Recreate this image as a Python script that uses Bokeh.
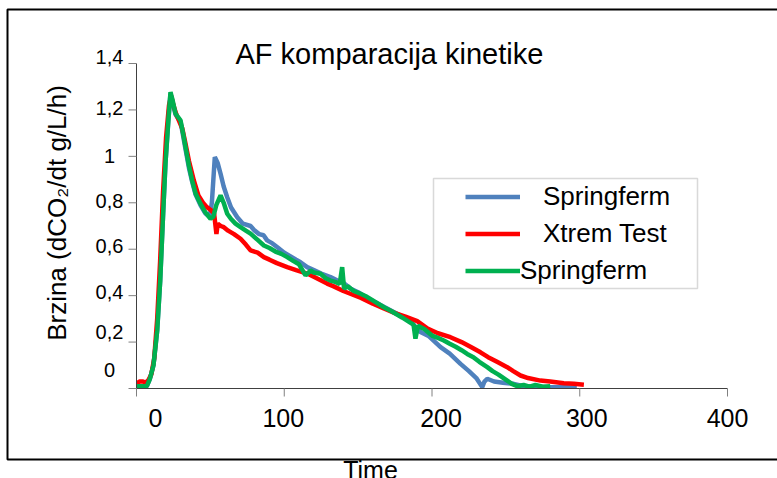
import math
from bokeh.plotting import figure
from bokeh.models import Range1d, Legend, LegendItem, BoxAnnotation
from bokeh.embed import file_html
from bokeh.resources import INLINE

# ---------------- data ----------------
title_text = "AF komparacija kinetike"
x_axis_label = "Time"
y_axis_label = "Brzina (dCO\u2082/dt g/L/h)"
series_names = ["Springferm", "Xtrem Test", "Springferm"]

x_ticks = [0, 100, 200, 300, 400]
x_tick_labels = ["0", "100", "200", "300", "400"]
y_ticks = [0, 0.2, 0.4, 0.6, 0.8, 1.0, 1.2, 1.4]
y_tick_labels = ["0", "0,2", "0,4", "0,6", "0,8", "1", "1,2", "1,4"]

blue_x = [0, 3, 7, 9, 11.5, 14, 16, 18, 19.6, 21.5, 23, 24.5, 26.4, 28, 29.8, 31.5, 33.2, 35.5,
          37.7, 40, 43.3, 46.5, 49.5, 51, 53, 55, 56.9, 59, 61.4, 64, 68.2, 72, 77.2, 80, 83, 86,
          88.4, 92, 96, 100, 104, 108, 111, 115.5, 120, 125, 131.3, 136, 140, 145, 150, 156, 162,
          168, 174, 180, 186, 192.2, 198, 205.8, 212, 219.3, 225, 230, 234, 235.5, 237.4, 242,
          248, 255.3, 262, 270, 280, 290, 298]
blue_y = [0.005, 0.005, 0.01, 0.04, 0.10, 0.25, 0.46, 0.75, 0.97, 1.15, 1.27, 1.23, 1.18, 1.165,
          1.15, 1.09, 1.03, 0.95, 0.89, 0.835, 0.79, 0.755, 0.74, 0.80, 0.997, 0.97, 0.925, 0.87,
          0.824, 0.78, 0.738, 0.71, 0.70, 0.68, 0.665, 0.66, 0.638, 0.625, 0.605, 0.585, 0.57,
          0.555, 0.544, 0.523, 0.51, 0.495, 0.48, 0.465, 0.455, 0.43, 0.415, 0.39, 0.37, 0.35,
          0.33, 0.31, 0.285, 0.243, 0.225, 0.178, 0.15, 0.106, 0.075, 0.045, 0.006, 0.03, 0.042,
          0.03, 0.025, 0.02, 0.01, 0.008, 0.005, 0.005, 0.004]

red_x = [0, 2, 4.4, 6, 8, 10, 12, 14, 16, 18, 20, 22, 23.5, 25, 27, 29, 31, 33, 35.5, 38.8, 42,
         45, 47.6, 50, 52.5, 54.1, 55, 57, 59.1, 62, 66, 70.4, 74, 77.2, 82, 86.2, 90, 95, 102,
         108, 115.5, 122, 129, 133.5, 140, 146, 152, 160, 167.4, 175, 182, 190, 197, 204, 212.5,
         220, 226, 232.8, 238, 244, 250.9, 255, 259.9, 265, 273.4, 280, 289.2, 296, 302.8]
red_y = [0.02, 0.03, 0.03, 0.025, 0.035, 0.06, 0.13, 0.30, 0.55, 0.85, 1.08, 1.22, 1.26, 1.22,
         1.18, 1.15, 1.12, 1.06, 0.98, 0.896, 0.83, 0.80, 0.781, 0.77, 0.755, 0.666, 0.71, 0.70,
         0.695, 0.68, 0.665, 0.645, 0.62, 0.595, 0.585, 0.566, 0.555, 0.54, 0.523, 0.51, 0.495,
         0.475, 0.452, 0.44, 0.42, 0.405, 0.39, 0.365, 0.345, 0.325, 0.31, 0.29, 0.258, 0.238,
         0.221, 0.2, 0.18, 0.156, 0.135, 0.115, 0.092, 0.075, 0.056, 0.045, 0.034, 0.03, 0.023,
         0.02, 0.016]

green_x = [0, 3, 7, 9, 11.5, 14, 16, 18, 19.6, 21.5, 23, 24.5, 26.4, 28, 29.8, 31.5, 33.2, 35.5,
           37.7, 40, 43.3, 46.5, 50.1, 52, 54, 56.9, 59, 61.4, 64, 67, 70.4, 74, 77.2, 82, 86.2,
           90, 94, 98, 102, 106, 110, 114.4, 117.8, 120, 124.5, 128, 131.3, 135, 137.5, 139.2,
           140.5, 143, 147, 151.6, 156, 161, 167.4, 172, 176, 180, 185, 187.5, 188.8, 190.5, 195,
           200, 204, 208, 212, 216, 220, 223.8, 228, 232, 237.4, 241, 245, 250.9, 254, 257.7, 262,
           266, 270, 275, 280]
green_y = [0.01, 0.01, 0.01, 0.04, 0.10, 0.25, 0.46, 0.75, 0.97, 1.15, 1.277, 1.24, 1.185, 1.17,
           1.155, 1.10, 1.04, 0.96, 0.896, 0.84, 0.796, 0.76, 0.731, 0.74, 0.79, 0.832, 0.80,
           0.753, 0.73, 0.71, 0.695, 0.68, 0.667, 0.64, 0.616, 0.605, 0.59, 0.58, 0.566, 0.55,
           0.535, 0.487, 0.508, 0.50, 0.494, 0.475, 0.465, 0.458, 0.45, 0.523, 0.43, 0.44, 0.42,
           0.408, 0.395, 0.375, 0.35, 0.335, 0.32, 0.305, 0.285, 0.275, 0.215, 0.27, 0.255, 0.228,
           0.218, 0.207, 0.193, 0.18, 0.165, 0.149, 0.135, 0.115, 0.092, 0.075, 0.06, 0.034,
           0.02, 0.01, 0.015, 0.008, 0.015, 0.008, 0.01]

# ---------------- layout / style ----------------
W, H = 777, 478
FONT = "Liberation Sans"
BLUE, RED, GREEN = "#4F81BD", "#FF0000", "#00B050"
AXIS_LEFT, AXIS_RIGHT, AXIS_TOP, AXIS_BOTTOM = 136, 727, 63, 388   # pixel box of the plot area
x_label_nudge = [19, -1, 9, 7, 0]            # px right (Excel-like label placement)
y_label_nudge = [19, 10, 4, 3, 2, 0, 2, 7]   # px upward

kx = (AXIS_RIGHT - AXIS_LEFT) / (x_ticks[-1] - x_ticks[0])   # px per x unit
ky = (AXIS_BOTTOM - AXIS_TOP) / (y_ticks[-1] - y_ticks[0])   # px per y unit
X0 = x_ticks[0] - AXIS_LEFT / kx
Y1 = y_ticks[-1] + AXIS_TOP / ky

def sx(px):
    return X0 + px / kx

def sy(py):
    return Y1 - py / ky

p = figure(width=W, height=H, output_backend="svg", toolbar_location=None,
           x_range=Range1d(sx(0), sx(W)), y_range=Range1d(sy(H), sy(0)),
           x_axis_type=None, y_axis_type=None, min_border=0,
           background_fill_color="white", border_fill_color="white")
p.outline_line_color = None
p.grid.visible = False

# outer frame of the picture
p.line([sx(W + 20), sx(7), sx(7), sx(W + 20)], [sy(9), sy(9), sy(459), sy(459)],
       line_color="black", line_width=2)

# data
r_blue = p.line(blue_x, blue_y, line_color=BLUE, line_width=4.5)
r_red = p.line(red_x, red_y, line_color=RED, line_width=4.5)
r_green = p.line(green_x, green_y, line_color=GREEN, line_width=4.5)

# clip marks to the plot area (cover what leaks below / left of the axes)
p.quad(left=sx(AXIS_LEFT - 6), right=sx(AXIS_RIGHT), top=y_ticks[0], bottom=sy(AXIS_BOTTOM + 4),
       fill_color="white", line_color=None)
p.quad(left=sx(AXIS_LEFT - 6), right=x_ticks[0], top=y_ticks[-1], bottom=sy(AXIS_BOTTOM + 4),
       fill_color="white", line_color=None)

# axes
p.segment(x0=[x_ticks[0], x_ticks[0]], y0=[y_ticks[0], y_ticks[0]],
          x1=[x_ticks[-1], x_ticks[0]], y1=[y_ticks[0], y_ticks[-1]],
          line_color="#404040", line_width=1)
p.segment(x0=x_ticks, y0=[y_ticks[0]] * len(x_ticks), x1=x_ticks,
          y1=[y_ticks[0] - 8 / ky] * len(x_ticks), line_color="#808080", line_width=1)
p.segment(x0=[x_ticks[0]] * len(y_ticks), y0=y_ticks, x1=[x_ticks[0] - 8 / kx] * len(y_ticks),
          y1=y_ticks, line_color="#808080", line_width=1)

# tick labels
p.text(x=x_ticks, y=[y_ticks[0]] * len(x_ticks), text=x_tick_labels, x_offset=x_label_nudge,
       y_offset=29, text_align="center", text_baseline="middle", text_font={"value": FONT},
       text_font_size="25px", text_color="black")
p.text(x=[x_ticks[0]] * len(y_ticks), y=y_ticks, text=y_tick_labels, x_offset=-27,
       y_offset=[-d for d in y_label_nudge], text_align="center", text_baseline="middle",
       text_font={"value": FONT}, text_font_size="20px", text_color="black")

# titles
p.text(x=[x_ticks[0]], y=[y_ticks[-1]], text=[title_text], x_offset=99, y_offset=-10,
       text_align="left", text_baseline="middle", text_font={"value": FONT},
       text_font_size="29px", text_color="black")
p.text(x=[x_ticks[0]], y=[y_ticks[-1] / 2], text=[y_axis_label], x_offset=-80, y_offset=-13,
       angle=math.pi / 2, text_align="center", text_baseline="middle",
       text_font={"value": FONT}, text_font_size="26px", text_color="black")
p.text(x=[x_ticks[0]], y=[y_ticks[0]], text=[x_axis_label], x_offset=234, y_offset=67,
       text_align="center", text_baseline="top", text_font={"value": FONT},
       text_font_size="25px", text_color="black")

# legend box + legends
p.add_layout(BoxAnnotation(left=sx(433), right=sx(697), top=sy(178), bottom=sy(288),
                           fill_color="white", fill_alpha=1, line_color="#808080",
                           line_width=1.5))

def make_legend(items, loc, standoff):
    return Legend(items=items, location=loc, padding=0, spacing=0, margin=0,
                  glyph_width=55, glyph_height=37, label_height=37, label_standoff=standoff,
                  border_line_alpha=0, background_fill_alpha=0, label_text_font=FONT,
                  label_text_font_size="26px", label_text_color="black")

p.add_layout(make_legend([LegendItem(label=series_names[0], renderers=[r_blue]),
                          LegendItem(label=series_names[1], renderers=[r_red])],
                         (465, H - 251.5), 23), "center")
p.add_layout(make_legend([LegendItem(label=series_names[2], renderers=[r_green])],
                         (465, H - 288.5), -1), "center")

open("out.html", "w").write(file_html(p, INLINE))
